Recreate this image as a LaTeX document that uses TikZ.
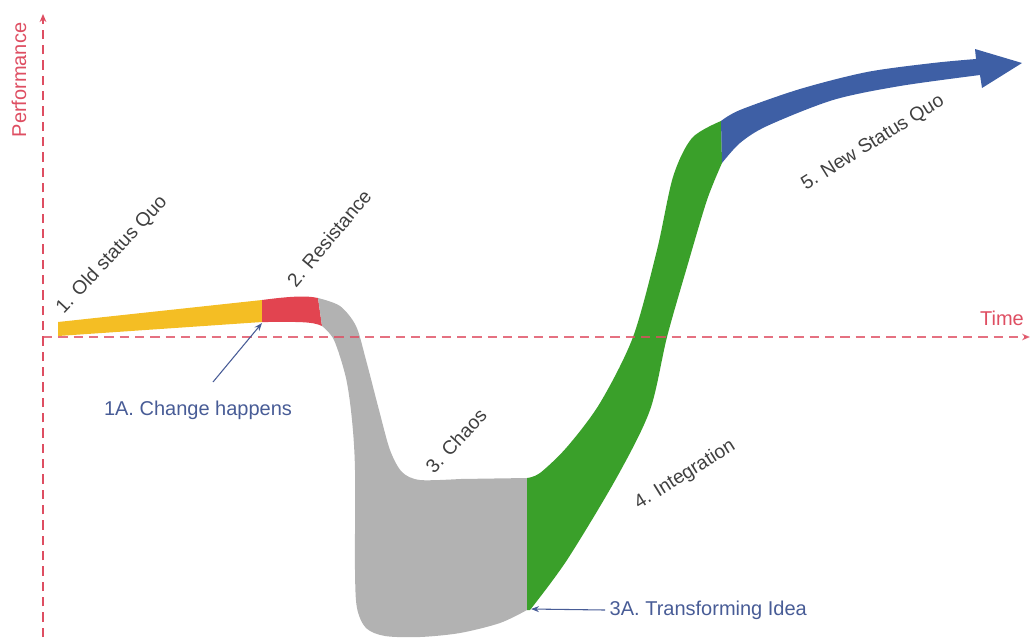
\documentclass[tikz,border=0pt]{standalone}
\usepackage{fontspec}
\setmainfont{Liberation Sans}
\usetikzlibrary{arrows.meta}
\definecolor{axisred}{RGB}{222,78,98}
\definecolor{labgray}{RGB}{64,64,64}
\definecolor{annblue}{RGB}{72,92,150}
\definecolor{cyellow}{RGB}{244,190,36}
\definecolor{cred}{RGB}{226,68,80}
\definecolor{cgray}{RGB}{178,178,178}
\definecolor{cgreen}{RGB}{58,160,42}
\definecolor{cblue}{RGB}{62,95,165}
\begin{document}
\begin{tikzpicture}[x=0.75pt,y=-0.75pt,
  axis/.style={axisred, line width=1.1pt, dash pattern=on 7pt off 4.5pt, -{Stealth[length=6pt,width=5pt]}},
  phase/.style={text=labgray, font=\fontsize{14.5}{17}\selectfont, inner sep=0pt},
  annot/.style={annblue, line width=0.8pt, -{Stealth[length=6pt,width=4.5pt]}},
  annlabel/.style={text=annblue, font=\fontsize{15}{18}\selectfont},
  axlabel/.style={text=axisred, font=\fontsize{15}{18}\selectfont, inner sep=0pt}]
\useasboundingbox (0,0) rectangle (1031,637);

% coordinates
\coordinate (origin) at (43,337);
\coordinate (xend) at (1030,337);
\coordinate (ybot) at (43,637);
\coordinate (yend) at (43,14);
\coordinate (chg) at (262,323);
\coordinate (a1s) at (213,382);
\coordinate (idea) at (531,609);

% 1. yellow
\fill[cyellow] (58,322) -- (262,300) -- (262,322) -- (58,336) -- cycle;
% 2. red
\fill[cred] (262,300) .. controls (285,297) and (305,295) .. (318,298)
  -- (322,326) .. controls (312,321) and (295,322) .. (262,322) -- cycle;
% 3. gray
\fill[cgray] plot[smooth] coordinates {(318,298) (340,306) (356,326) (366,360) (379,410) (390,450) (402,472) (420,480) (460,479)}
  -- (527,478) -- (527,610)
  -- plot[smooth] coordinates {(527,610) (500,623) (460,633) (420,637) (385,636) (366,628) (357,608) (355,570) (355,470) (352,420) (346,378) (334,340) (322,326)}
  -- cycle;
% 4. green
\fill[cgreen] plot[smooth] coordinates {(527,478) (540,473) (567,447) (600,403) (633,337) (657,250) (673,177) (692,138) (721,121)}
  -- plot[smooth] coordinates {(722,163) (707,200) (687,267) (667,337) (650,410) (617,477) (567,560) (530,610)}
  -- (527,610) -- cycle;
% 5. blue arrow
\fill[cblue] plot[smooth] coordinates {(721,121) (740,110) (800,89) (867,72) (933,63) (976,59)}
  -- (975,49) -- (1022,63) -- (982,88)
  -- plot[smooth] coordinates {(980,75) (900,86) (833,100) (767,126) (740,143) (722,163)}
  -- cycle;

% axes
\draw[axis, opacity=0.8] (origin) -- (xend);
\draw[axis] (ybot) -- (yend);
\node[axlabel] (time) at (1002,318) {Time};
\node[axlabel, rotate=90] (perf) at (19,80) {Performance};

% phase labels
\node[phase, rotate=47] (p1) at (112,255) {1. Old status Quo};
\node[phase, rotate=50] (p2) at (329,238) {2. Resistance};
\node[phase, rotate=47] (p3) at (456,441) {3. Chaos};
\node[phase, rotate=32] (p4) at (685,475) {4. Integration};
\node[phase, rotate=32] (p5) at (873,143) {5. New Status Quo};

% annotations
\node[annlabel] (lbl1A) at (198,410) {1A. Change happens};
\draw[annot] (a1s) -- (chg);
\node[annlabel, anchor=west] (lbl3A) at (605,610) {3A. Transforming Idea};
\draw[annot] (lbl3A.west) -- (idea);
\end{tikzpicture}
\end{document}
